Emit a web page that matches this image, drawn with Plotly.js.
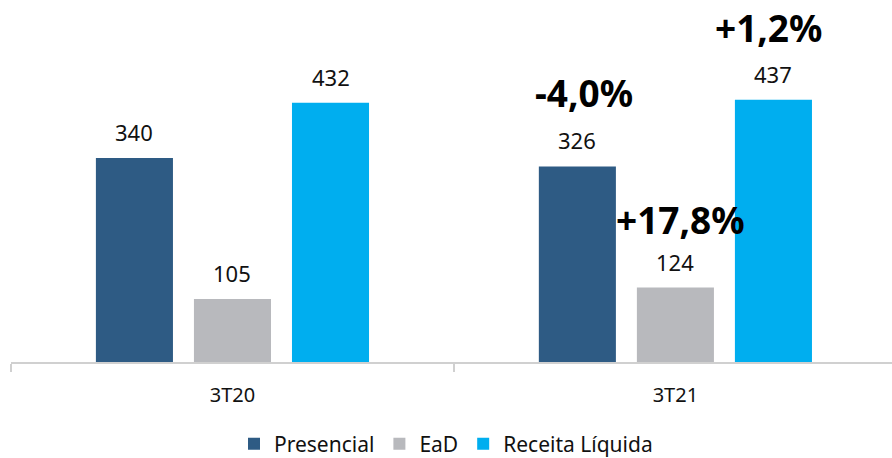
<!DOCTYPE html>
<html>
<head>
<meta charset="utf-8">
<script src="https://cdn.plot.ly/plotly-3.0.1.min.js"></script>
<style>html,body{margin:0;padding:0;background:#fff}#chart{width:892px;height:458px}</style>
</head>
<body>
<div id="chart"></div>
<script>
const categories = ['3T20', '3T21'];
const seriesNames = ['Presencial', 'EaD', 'Receita Líquida'];
const presencial = [340, 326];
const ead = [105, 124];
const receita = [432, 437];
const growthLabels = ['-4,0%', '+17,8%', '+1,2%'];

const colors = ['#2E5B84', '#B8B9BD', '#00AEEF'];
const series = [presencial, ead, receita];
const bargap = 0.336;
const slot = (1 - bargap) / 3;

const font = 'Noto Sans, sans-serif';
const traces = series.map((vals, i) => ({
  type: 'bar',
  name: seriesNames[i],
  x: categories,
  y: vals,
  marker: {color: colors[i]},
  hoverinfo: 'skip'
}));

const annotations = [];
series.forEach((vals, i) => {
  vals.forEach((v, j) => {
    annotations.push({
      x: j + (i - 1) * slot, y: v, xref: 'x', yref: 'y',
      text: String(v), showarrow: false, yanchor: 'bottom', yshift: 9,
      font: {family: font, size: 22, color: '#111'}
    });
  });
});
// growth labels (3T21), positions in pixels
const L = 11, W = 881, T = 2, H = 360;
const growthPos = [
  {x: 584, y: 92},
  {x: 680, y: 219},
  {x: 768, y: 28}
];
growthLabels.forEach((t, i) => {
  annotations.push({
    xref: 'paper', yref: 'paper',
    x: (growthPos[i].x - L) / W,
    y: (T + H - growthPos[i].y) / H,
    text: '<b>' + t + '</b>', showarrow: false,
    xanchor: 'center', yanchor: 'middle',
    font: {family: font, size: 37, color: '#000'}
  });
});

const layout = {
  width: 892, height: 458,
  margin: {l: L, r: 892 - L - W, t: T, b: 458 - T - H, autoexpand: false},
  paper_bgcolor: '#fff', plot_bgcolor: '#fff',
  barmode: 'group', bargap: bargap, bargroupgap: 0.214,
  showlegend: true,
  legend: {orientation: 'h', x: 0.5, xanchor: 'center', xref: 'container',
    y: (458 - 444) / 458, yanchor: 'middle', yref: 'container',
    font: {family: font, size: 21, color: '#111'}, itemwidth: 30, traceorder: 'normal'},
  xaxis: {
    type: 'category', range: [-0.5, 1.489], automargin: false,
    showline: true, linecolor: '#D0D0D0', linewidth: 1.5,
    ticks: 'outside', tickson: 'boundaries', ticklen: 8, tickcolor: '#D0D0D0', tickwidth: 1.5,
    ticklabelstandoff: 14,
    tickfont: {family: font, size: 20, color: '#111'},
    showgrid: false, zeroline: false, fixedrange: true
  },
  yaxis: {range: [0, 600], visible: false, showgrid: false, zeroline: false, fixedrange: true, automargin: false},
  annotations: annotations,
  font: {family: font}
};

Plotly.newPlot('chart', traces, layout, {displayModeBar: false, staticPlot: true});
</script>
</body>
</html>
